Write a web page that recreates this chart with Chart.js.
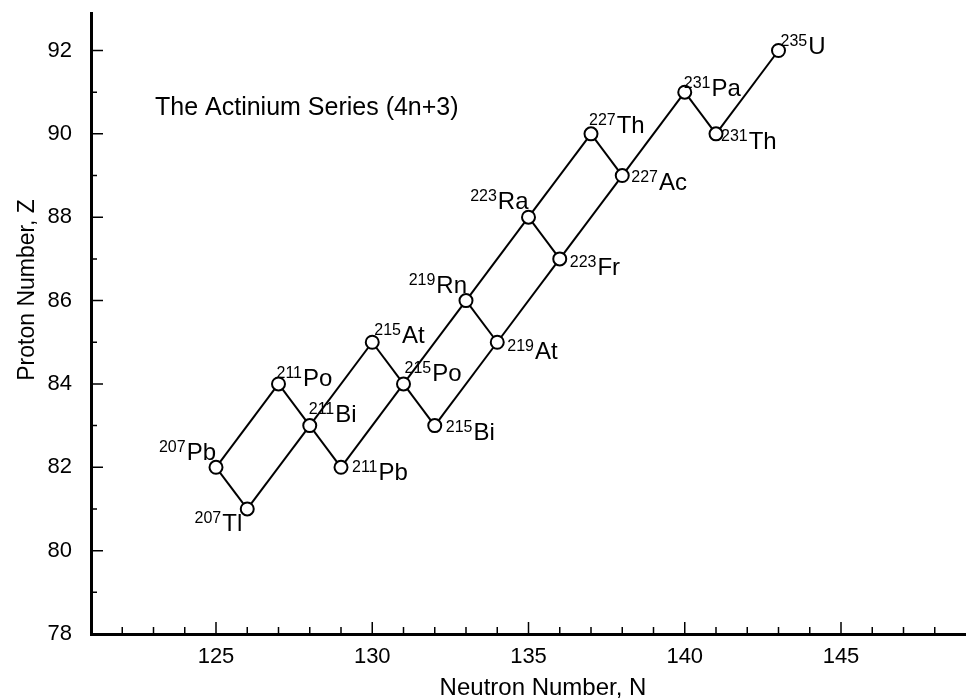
<!DOCTYPE html>
<html lang="en">
<head>
  <meta charset="UTF-8" />
  <title>The Actinium Series (4n+3)</title>
  <script src="https://cdn.jsdelivr.net/npm/chart.js"></script>
  <style>
    body {
      margin: 0;
      background: #fff;
    }
    canvas {
      display: block;
    }
  </style>
</head>
<body>

  <canvas id="chainChart" width="966" height="700"></canvas>

  <script>
    // nuclides of the chain
    const massNumbers = [235, 231, 231, 227, 227, 223, 223, 219, 219, 215, 215, 215, 211, 211, 211, 207, 207];
    const elements    = ['U', 'Th', 'Pa', 'Ac', 'Th', 'Fr', 'Ra', 'At', 'Rn', 'Bi', 'Po', 'At', 'Pb', 'Bi', 'Po', 'Tl', 'Pb'];
    const neutrons    = [143, 141, 140, 138, 137, 136, 135, 134, 133, 132, 131, 130, 129, 128, 127, 126, 125];
    const protons     = [92, 90, 91, 89, 90, 87, 88, 85, 86, 83, 84, 85, 82, 83, 84, 81, 82];

    // decay links, parent -> daughter
    const decays = [
      ['235U', '231Th'], ['231Th', '231Pa'], ['231Pa', '227Ac'],
      ['227Ac', '227Th'], ['227Ac', '223Fr'], ['227Th', '223Ra'], ['223Fr', '223Ra'],
      ['223Fr', '219At'], ['223Ra', '219Rn'], ['219At', '219Rn'], ['219At', '215Bi'],
      ['219Rn', '215Po'], ['215Bi', '215Po'], ['215Po', '215At'], ['215Po', '211Pb'],
      ['215At', '211Bi'], ['211Pb', '211Bi'], ['211Bi', '211Po'], ['211Bi', '207Tl'],
      ['211Po', '207Pb'], ['207Tl', '207Pb']
    ];

    const xTicks = [125, 130, 135, 140, 145];
    const yTicks = [78, 80, 82, 84, 86, 88, 90, 92];

    // where each label sits next to its circle: [dx, dy to baseline, anchor]
    const labelPlace = {
      '235U':  [2, 3, 'left'],
      '231Th': [5, 15, 'left'],
      '231Pa': [-1, 4, 'left'],
      '227Ac': [9, 14, 'left'],
      '227Th': [-2, -1, 'left'],
      '223Fr': [10, 16, 'left'],
      '223Ra': [0, -8, 'right'],
      '219At': [10, 17, 'left'],
      '219Rn': [1, -8, 'right'],
      '215Bi': [11, 14, 'left'],
      '215Po': [1, -3, 'left'],
      '215At': [2, 1, 'left'],
      '211Pb': [11, 13, 'left'],
      '211Bi': [-1, -4, 'left'],
      '211Po': [-2, 2, 'left'],
      '207Tl': [-5, 22, 'right'],
      '207Pb': [0, -7, 'right']
    };

    const FONT = '"Liberation Sans", Arial, Helvetica, sans-serif';
    const names = massNumbers.map((a, i) => a + elements[i]);
    const pointOf = n => {
      const i = names.indexOf(n);
      return { x: neutrons[i], y: protons[i] };
    };

    const linkSets = decays.map(([p, d]) => ({
      data: [pointOf(p), pointOf(d)],
      showLine: true,
      borderColor: '#000',
      borderWidth: 2,
      pointRadius: 0,
      order: 1
    }));

    const markerSet = {
      data: neutrons.map((n, i) => ({ x: n, y: protons[i] })),
      pointRadius: 6.5,
      pointBackgroundColor: '#fff',
      pointBorderColor: '#000',
      pointBorderWidth: 2,
      showLine: false,
      order: 0
    };

    // inward ticks, nuclide labels, caption and axis titles
    const decorPlugin = {
      id: 'decor',
      afterDraw(chart) {
        const { ctx, chartArea: area, scales: { x, y } } = chart;
        ctx.save();
        ctx.strokeStyle = '#000';
        ctx.lineWidth = 1.5;
        ctx.beginPath();
        for (let v = Math.ceil(x.min) + 1; v < x.max; v++) {
          const px = x.getPixelForValue(v);
          const len = v % 5 === 0 ? 12 : 7;
          ctx.moveTo(px, area.bottom);
          ctx.lineTo(px, area.bottom - len);
        }
        for (let v = Math.ceil(y.min) + 1; v < y.max; v++) {
          const py = y.getPixelForValue(v);
          const len = v % 2 === 0 ? 12 : 6;
          ctx.moveTo(area.left, py);
          ctx.lineTo(area.left + len, py);
        }
        ctx.stroke();

        ctx.fillStyle = '#000';
        ctx.textAlign = 'left';
        ctx.textBaseline = 'alphabetic';
        const supFont = '16px ' + FONT;
        const symFont = '24px ' + FONT;
        names.forEach((nm, i) => {
          const [dx, dy, anchor] = labelPlace[nm];
          const px = x.getPixelForValue(neutrons[i]) + dx;
          const py = y.getPixelForValue(protons[i]) + dy;
          const sup = String(massNumbers[i]);
          ctx.font = supFont;
          const sw = ctx.measureText(sup).width;
          ctx.font = symFont;
          const ew = ctx.measureText(elements[i]).width;
          const left = anchor === 'right' ? px - sw - ew - 1 : px;
          ctx.font = supFont;
          ctx.fillText(sup, left, py - 8);
          ctx.font = symFont;
          ctx.fillText(elements[i], left + sw + 1, py);
        });

        ctx.font = '25px ' + FONT;
        ctx.fillText('The Actinium Series (4n+3)', 155, 115);

        ctx.textAlign = 'center';
        ctx.font = '24px ' + FONT;
        ctx.fillText('Neutron Number, N', 543, 695);

        ctx.translate(34, 290);
        ctx.rotate(-Math.PI / 2);
        ctx.font = '23px ' + FONT;
        ctx.fillText('Proton Number, Z', 0, 0);
        ctx.restore();
      }
    };

    new Chart(document.getElementById('chainChart'), {
      type: 'scatter',
      data: { datasets: [markerSet, ...linkSets] },
      plugins: [decorPlugin],
      options: {
        responsive: false,
        animation: false,
        events: [],
        layout: { autoPadding: false, padding: { top: 13, left: 0, right: 0, bottom: 0 } },
        plugins: { legend: { display: false }, tooltip: { enabled: false } },
        scales: {
          x: {
            type: 'linear',
            min: 121,
            max: 149,
            afterBuildTicks: s => { s.ticks = xTicks.map(v => ({ value: v })); },
            afterFit: s => {
              s.height = 66;
              s.paddingLeft = 0;
              s.paddingRight = 0;
            },
            grid: { display: false, drawTicks: false },
            border: { display: true, color: '#000', width: 3 },
            ticks: { color: '#000', padding: 10, font: { family: FONT, size: 22 } }
          },
          y: {
            type: 'linear',
            min: 78,
            max: 92.9,
            afterBuildTicks: s => { s.ticks = yTicks.map(v => ({ value: v })); },
            afterFit: s => {
              s.width = 91;
              s.paddingTop = 0;
              s.paddingBottom = 0;
            },
            grid: { display: false, drawTicks: false },
            border: { display: true, color: '#000', width: 3 },
            ticks: { color: '#000', padding: 19, font: { family: FONT, size: 22 } }
          }
        }
      }
    });
  </script>
</body>
</html>
